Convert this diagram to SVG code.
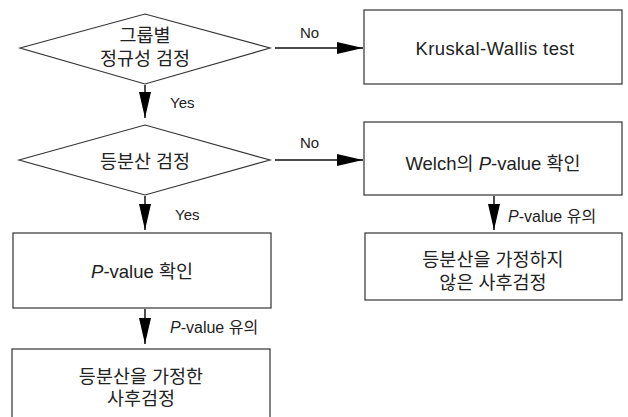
<svg xmlns="http://www.w3.org/2000/svg" width="628" height="417" viewBox="0 0 628 417">
<style>
.shape{fill:#fff;stroke:#333;stroke-width:1.2}
.edge{stroke:#111;stroke-width:1.5;fill:none}
.t{font-family:"Liberation Sans","Noto Sans CJK KR",sans-serif;font-size:18.5px;fill:#222;text-anchor:middle}
.l{font-family:"Liberation Sans","Noto Sans CJK KR",sans-serif;font-size:15px;fill:#222}
.pl{font-size:16px}
</style>
<defs>
<marker id="ah" markerWidth="26" markerHeight="14" refX="26" refY="7" orient="auto" markerUnits="userSpaceOnUse">
<path d="M0,1 L26,7 L0,13 Z" fill="#000"/>
</marker>
</defs>
<rect width="628" height="417" fill="#fff"/>
<g id="connectors">
<line class="edge" x1="145" y1="85" x2="145" y2="118" marker-end="url(#ah)"/>
<text class="l" x="170" y="108">Yes</text>
<line class="edge" x1="275" y1="48" x2="363" y2="48" marker-end="url(#ah)"/>
<text class="l" x="300" y="38">No</text>
<line class="edge" x1="145" y1="196" x2="145" y2="230" marker-end="url(#ah)"/>
<text class="l" x="175" y="220">Yes</text>
<line class="edge" x1="275" y1="160" x2="363" y2="160" marker-end="url(#ah)"/>
<text class="l" x="300" y="148">No</text>
<line class="edge" x1="494" y1="196" x2="494" y2="230" marker-end="url(#ah)"/>
<text class="l pl" x="508" y="222"><tspan font-style="italic">P</tspan>-value 유의</text>
<line class="edge" x1="145" y1="309" x2="145" y2="344" marker-end="url(#ah)"/>
<text class="l pl" x="170" y="333"><tspan font-style="italic">P</tspan>-value 유의</text>
</g>
<g id="d1">
<polygon class="shape" points="20,48 145,14 270,48 145,84"/>
<text class="t" x="145" y="42">그룹별</text>
<text class="t" x="145" y="65">정규성 검정</text>
</g>
<g id="kw">
<rect class="shape" x="364" y="10" width="258" height="74"/>
<text class="t" x="495" y="55" font-size="17.5" letter-spacing="0.4">Kruskal-Wallis test</text>
</g>
<g id="d2">
<polygon class="shape" points="19,160 145,125 270,160 145,195"/>
<text class="t" x="145" y="168">등분산 검정</text>
</g>
<g id="welch">
<rect class="shape" x="364" y="122" width="258" height="73"/>
<text class="t" x="493" y="170">Welch의 <tspan font-style="italic">P</tspan>-value 확인</text>
</g>
<g id="nonequal">
<rect class="shape" x="365" y="233" width="257" height="67"/>
<text class="t" x="493" y="266">등분산을 가정하지</text>
<text class="t" x="493" y="289">않은 사후검정</text>
</g>
<g id="pval">
<rect class="shape" x="13" y="233" width="258" height="75"/>
<text class="t" x="142" y="278"><tspan font-style="italic">P</tspan>-value 확인</text>
</g>
<g id="equal">
<rect class="shape" x="12" y="349" width="258" height="80"/>
<text class="t" x="141" y="383">등분산을 가정한</text>
<text class="t" x="141" y="405">사후검정</text>
</g>
</svg>
